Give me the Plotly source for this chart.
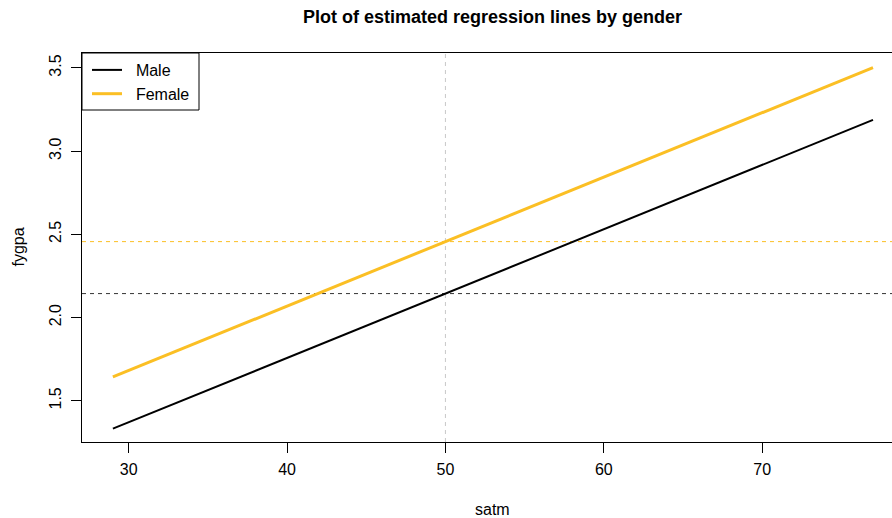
import numpy as np
import plotly.graph_objects as go

# Data
satm = [29, 77]
male_fygpa = [1.332, 3.188]
female_fygpa = [1.643, 3.502]
satm_center = 50
x_ticks = [30, 40, 50, 60, 70]
y_ticks = [1.5, 2.0, 2.5, 3.0, 3.5]
series_names = ["Male", "Female"]

male_at_center = float(np.interp(satm_center, satm, male_fygpa))
female_at_center = float(np.interp(satm_center, satm, female_fygpa))

BLACK = "#000000"
GOLD = "#FBBF24"
FONT = "Liberation Sans, Arial, Helvetica, sans-serif"
NB = "\u00a0\u00a0"

W, H = 892, 518
ML, MR, MT, MB = 82, 0, 53, 76
PW, PH = W - ML - MR, H - MT - MB

fig = go.Figure()
fig.add_trace(go.Scatter(x=satm, y=male_fygpa, mode="lines", name=NB + series_names[0],
                         line=dict(color=BLACK, width=2)))
fig.add_trace(go.Scatter(x=satm, y=female_fygpa, mode="lines", name=NB + series_names[1],
                         line=dict(color=GOLD, width=3)))

# reference lines
fig.add_shape(type="line", xref="x", yref="paper", x0=satm_center, x1=satm_center, y0=0, y1=1,
              line=dict(color="#C8C8C8", width=1, dash="4px,4px"), layer="below")
fig.add_shape(type="line", xref="paper", yref="y", x0=0, x1=1, y0=male_at_center, y1=male_at_center,
              line=dict(color="#333333", width=1, dash="4px,4px"), layer="below")
fig.add_shape(type="line", xref="paper", yref="y", x0=0, x1=1, y0=female_at_center, y1=female_at_center,
              line=dict(color=GOLD, width=1, dash="4px,4px"), layer="below")
# legend box
fig.add_shape(type="rect", xref="paper", yref="paper",
              x0=0, x1=(199 - ML) / PW, y0=1 - (110 - MT) / PH, y1=1,
              line=dict(color="#000000", width=1), fillcolor="rgba(0,0,0,0)")

x_lo, x_hi = 27.05, 78.2
y_lo, y_hi = 1.252, 3.590

fig.update_layout(
    width=W, height=H,
    margin=dict(l=ML, r=MR, t=MT, b=MB),
    paper_bgcolor="white", plot_bgcolor="white",
    font=dict(family=FONT, size=16, color="#000000"),
    showlegend=True,
    legend=dict(x=5 / PW, y=1, xanchor="left", yanchor="top",
                borderwidth=0, bgcolor="rgba(0,0,0,0)",
                font=dict(size=16), tracegroupgap=0, itemwidth=30),
    xaxis=dict(range=[x_lo, x_hi], tickvals=x_ticks, ticktext=[str(v) for v in x_ticks],
               ticks="outside", ticklen=10, tickcolor="#000000", tickwidth=1,
               showline=True, linecolor="#000000", linewidth=1, mirror=True,
               showgrid=False, zeroline=False, tickfont=dict(size=16), ticklabelstandoff=3),
    yaxis=dict(range=[y_lo, y_hi], tickvals=y_ticks, ticktext=[f"{v:.1f}" for v in y_ticks],
               ticks="outside", ticklen=10, tickcolor="#000000", tickwidth=1, tickangle=-90,
               showline=True, linecolor="#000000", linewidth=1, mirror=False,
               showgrid=False, zeroline=False, tickfont=dict(size=16), ticklabelstandoff=4),
    annotations=[
        dict(text="<b>Plot of estimated regression lines by gender</b>", xref="x", yref="paper",
             x=53, y=1, yshift=36, showarrow=False,
             font=dict(size=18), xanchor="center", yanchor="middle"),
        dict(text="satm", xref="x", yref="paper", x=53, y=0, yshift=-67, showarrow=False,
             font=dict(size=16), xanchor="center", yanchor="middle"),
        dict(text="fygpa", xref="paper", yref="paper", x=0, xshift=-64, y=0.5, showarrow=False,
             textangle=-90, font=dict(size=16), xanchor="center", yanchor="middle"),
    ],
)

fig.write_html("out.html", config={"displayModeBar": False},
               post_script="document.body.style.margin='0';document.body.style.overflow='hidden';")
